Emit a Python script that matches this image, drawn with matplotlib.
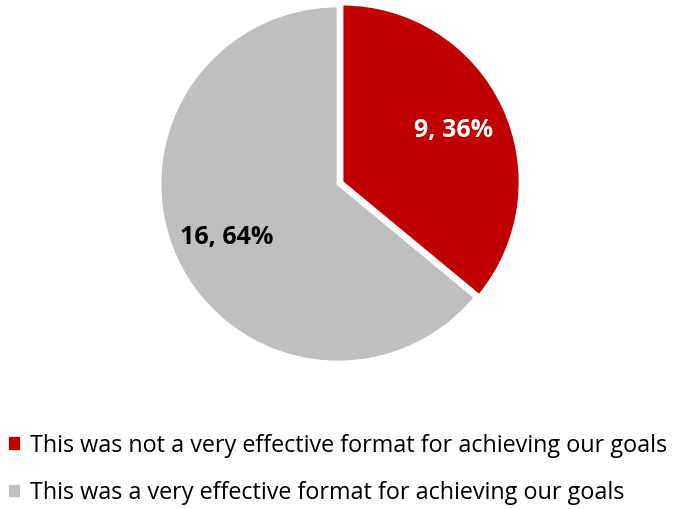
# plot.py
# Pie chart: how effective was the format for achieving our goals

import matplotlib.pyplot as plt

# ── Data ────────────────────────────────────────────────
LABELS = ["This was not a very effective format for achieving our goals",
          "This was a very effective format for achieving our goals"]
COUNTS = [9, 16]
COLORS = ["#C00000", "#BFBFBF"]
TEXT_COLORS = ["white", "black"]
EXPLODE = [0.025, 0.0]

plt.rcParams['font.family'] = ['Open Sans', 'DejaVu Sans']

fig = plt.figure(figsize=(6.73, 5.10), dpi=100)

# square axes in pixels: radius ~178 px, centre ~(338, 185) from top
W, H = 673, 510
r = 178
cx, cy = 338, H - 185
ax = fig.add_axes([(cx - r) / W, (cy - r) / H, 2 * r / W, 2 * r / H])

total = sum(COUNTS)
wedges, texts, autotexts = ax.pie(
    COUNTS, colors=COLORS, explode=EXPLODE, startangle=90,
    counterclock=False, radius=1.0, pctdistance=0.69,
    autopct=lambda p: f"{round(p * total / 100)}, {p:.0f}%",
    wedgeprops=dict(edgecolor="white", linewidth=2))

for t, c in zip(autotexts, TEXT_COLORS):
    t.set_color(c)
    t.set_fontsize(18)
    t.set_fontweight("bold")

ax.set_xlim(-1.0, 1.0)
ax.set_ylim(-1.0, 1.0)
ax.set_aspect("equal")
ax.axis("off")

leg = fig.legend(wedges, LABELS, loc="upper left",
                 bbox_to_anchor=(-0.004, 0.167), frameon=False,
                 fontsize=16.8, handlelength=0.62, handleheight=0.62,
                 handletextpad=0.38, labelspacing=1.0,
                 borderaxespad=0.0)

fig.savefig("out.png", dpi=100)
